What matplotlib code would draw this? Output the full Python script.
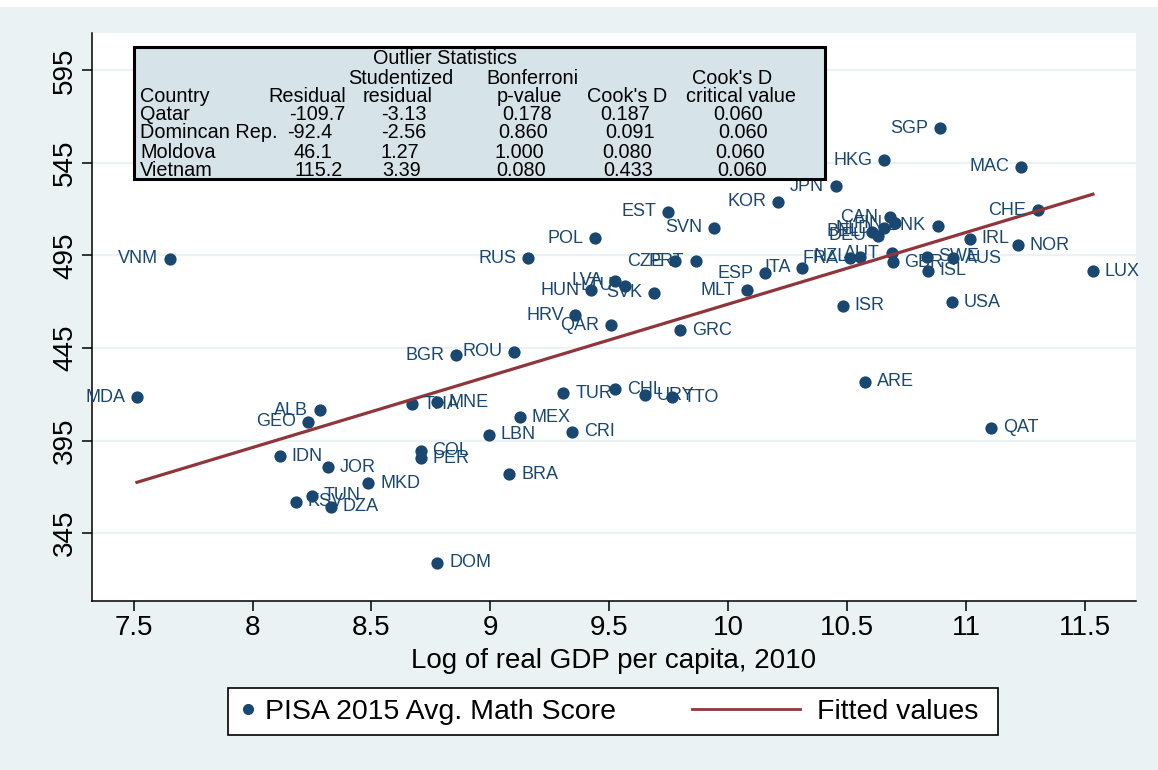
import numpy as np
import matplotlib
matplotlib.use("Agg")
from matplotlib import pyplot as plt
from matplotlib.patches import Rectangle
from matplotlib.lines import Line2D

plt.rcParams['font.family'] = ['Liberation Sans', 'DejaVu Sans']

# country codes, log GDP per capita 2010, PISA 2015 math score, label side
codes = ['SGP', 'HKG', 'MAC', 'JPN', 'KOR', 'EST', 'CHE', 'SVN', 'CAN', 'FIN',
         'NLD', 'DNK', 'BEL', 'DEU', 'POL', 'IRL', 'NOR', 'AUT', 'GBR', 'FRA',
         'NZL', 'SWE', 'AUS', 'ISL', 'LUX', 'VNM', 'RUS', 'CZE', 'PRT', 'ITA',
         'ESP', 'LVA', 'LTU', 'HUN', 'SVK', 'MLT', 'ISR', 'USA', 'HRV', 'QAR',
         'GRC', 'BGR', 'ROU', 'ARE', 'TUR', 'CHL', 'URY', 'TTO', 'MDA', 'QAT',
         'MEX', 'CRI', 'LBN', 'ALB', 'GEO', 'THA', 'MNE', 'IDN', 'JOR', 'COL',
         'PER', 'BRA', 'MKD', 'TUN', 'KSV', 'DZA', 'DOM']
log_gdp = [10.891, 10.655, 11.231, 10.452, 10.211, 9.748, 11.303, 9.942, 10.680, 10.701,
           10.655, 10.882, 10.605, 10.630, 9.440, 11.017, 11.219, 10.688, 10.692, 10.512,
           10.554, 10.835, 10.945, 10.839, 11.534, 7.653, 9.158, 9.776, 9.864, 10.312,
           10.155, 9.524, 9.566, 9.423, 9.690, 10.079, 10.482, 10.940, 9.358, 9.507,
           9.799, 8.855, 9.099, 10.575, 9.307, 9.524, 9.650, 9.762, 7.514, 11.105,
           9.124, 9.345, 8.995, 8.283, 8.233, 8.669, 8.774, 8.115, 8.318, 8.707,
           8.707, 9.080, 8.487, 8.251, 8.183, 8.328, 8.777]
math_score = [563.7, 546.5, 542.8, 532.5, 524.0, 518.6, 519.5, 510.0, 515.7, 512.4,
              509.7, 511.1, 507.9, 505.7, 504.2, 504.1, 500.4, 496.1, 491.3, 493.4,
              494.3, 494.3, 493.6, 486.7, 486.6, 493.1, 493.6, 492.0, 492.0, 488.4,
              485.3, 481.4, 478.6, 476.3, 474.8, 476.3, 467.7, 469.8, 462.8, 457.4,
              454.7, 441.2, 443.0, 426.8, 420.5, 422.7, 419.6, 418.3, 418.5, 401.9,
              407.5, 399.8, 398.0, 411.5, 405.2, 414.7, 415.6, 386.6, 380.5, 389.5,
              385.4, 376.9, 371.9, 365.2, 361.9, 359.2, 329.0]
label_right = ['IRL', 'NOR', 'GBR', 'SWE', 'AUS', 'ISL', 'LUX', 'ISR', 'USA', 'GRC',
               'ARE', 'TUR', 'CHL', 'URY', 'TTO', 'QAT', 'MEX', 'LBN', 'CRI', 'THA',
               'MNE', 'IDN', 'JOR', 'COL', 'PER', 'BRA', 'MKD', 'TUN', 'KSV', 'DZA', 'DOM']

x_ticks = [7.5, 8, 8.5, 9, 9.5, 10, 10.5, 11, 11.5]
y_ticks = [345, 395, 445, 495, 545, 595]

# outlier statistics table
tbl_title = 'Outlier Statistics'
tbl_head1 = ['Studentized', 'Bonferroni', "Cook's D"]
tbl_head2 = ['Country', 'Residual', 'residual', 'p-value', "Cook's D", 'critical value']
tbl_country = ['Qatar', 'Domincan Rep.', 'Moldova', 'Vietnam']
tbl_resid = ['-109.7', '-92.4', '46.1', '115.2']
tbl_stud = ['-3.13', '-2.56', '1.27', '3.39']
tbl_bonf = ['0.178', '0.860', '1.000', '0.080']
tbl_cook = ['0.187', '0.091', '0.080', '0.433']
tbl_crit = ['0.060', '0.060', '0.060', '0.060']

NAVY = '#1A476F'
MAROON = '#90353B'
BG = '#EAF2F3'
W, H = 1158, 770


def fx(px):
    return px / W


def fy(py):
    return 1 - py / H


fig = plt.figure(figsize=(W / 100, H / 100), dpi=100, facecolor=BG)
# white strip at the very top (clipped title area)
fig.patches.append(Rectangle((0, fy(7)), 1, 7 / H, transform=fig.transFigure,
                             facecolor='white', edgecolor='none', zorder=0))

ax = fig.add_axes([fx(92), fy(601), fx(1136) - fx(92), fy(33) - fy(601)])
ax.set_facecolor('white')
ax.set_xlim(7.325, 11.715)
ax.set_ylim(308.3, 615.2)

for yt in y_ticks:
    ax.axhline(yt, color=BG, lw=1.6, zorder=0)

x = np.array(log_gdp)
y = np.array(math_score)
ax.scatter(x, y, s=78, color=NAVY, zorder=3, linewidths=0)

b, a = np.polyfit(x, y, 1)
xs = np.array([x.min(), x.max()])
ax.plot(xs, a + b * xs, color=MAROON, lw=2.3, zorder=4)

for c, xi, yi in zip(codes, log_gdp, math_score):
    if c in label_right:
        ax.annotate(c, (xi, yi), xytext=(8.5, 0), textcoords='offset points',
                    ha='left', va='center', fontsize=13, color=NAVY, zorder=5)
    else:
        ax.annotate(c, (xi, yi), xytext=(-8.5, 0), textcoords='offset points',
                    ha='right', va='center', fontsize=13, color=NAVY, zorder=5)

ax.set_xticks(x_ticks)
ax.set_xticklabels(['%g' % t for t in x_ticks])
ax.set_yticks(y_ticks)
ax.set_yticklabels([str(t) for t in y_ticks], rotation=90, va='center')
ax.tick_params(axis='both', length=7, width=1.1, labelsize=20, pad=3, color='black')
for s in ['top', 'right']:
    ax.spines[s].set_visible(False)
for s in ['left', 'bottom']:
    ax.spines[s].set_linewidth(1.1)
ax.set_xlabel('Log of real GDP per capita, 2010', fontsize=20, labelpad=5)

# table box
fig.patches.append(Rectangle((fx(134), fy(179)), fx(825) - fx(134), fy(47) - fy(179),
                             transform=fig.transFigure, facecolor='#D6E4EA',
                             edgecolor='black', lw=2.2, zorder=6))
tk = dict(fontsize=14.3, color='black', va='center', zorder=7)
fig.text(fx(445), fy(59), tbl_title, ha='center', **tk)
for txt, px in zip(tbl_head1, [348, 486, 692]):
    fig.text(fx(px), fy(78), txt, ha='left', **tk)
for txt, px in zip(tbl_head2, [140, 268, 363, 497, 587, 686]):
    fig.text(fx(px), fy(96), txt, ha='left', **tk)
row_y = [115, 133, 152, 170]
resid_x = [289, 287, 294, 294]
stud_x = [381, 381, 380, 382]
bonf_x = [502, 498, 494, 496]
cook_x = [600, 605, 602, 603]
crit_x = [713, 718, 715, 717]
for i, ry in enumerate(row_y):
    fig.text(fx(140), fy(ry), tbl_country[i], ha='left', **tk)
    fig.text(fx(resid_x[i]), fy(ry), tbl_resid[i], ha='left', **tk)
    fig.text(fx(stud_x[i]), fy(ry), tbl_stud[i], ha='left', **tk)
    fig.text(fx(bonf_x[i]), fy(ry), tbl_bonf[i], ha='left', **tk)
    fig.text(fx(cook_x[i]), fy(ry), tbl_cook[i], ha='left', **tk)
    fig.text(fx(crit_x[i]), fy(ry), tbl_crit[i], ha='left', **tk)

# legend box
fig.patches.append(Rectangle((fx(228), fy(735)), fx(998) - fx(228), fy(688) - fy(735),
                             transform=fig.transFigure, facecolor='white',
                             edgecolor='black', lw=1.2, zorder=1))
h1 = Line2D([], [], ls='none', marker='o', ms=7, color=NAVY)
h2 = Line2D([], [], color=MAROON, lw=2.0)
leg1 = fig.legend([h1], ['PISA 2015 Avg. Math Score'], loc='center left',
                  bbox_to_anchor=(fx(228), fy(712)), frameon=False, fontsize=20.5,
                  handlelength=0.6, handletextpad=0.3, borderpad=0, borderaxespad=0.4)
leg2 = fig.legend([h2], ['Fitted values'], loc='center left',
                  bbox_to_anchor=(fx(686), fy(712)), frameon=False, fontsize=20.5,
                  handlelength=3.8, handletextpad=0.6, borderpad=0, borderaxespad=0.2)
leg1.set_zorder(8)
leg2.set_zorder(8)

plt.savefig('out.png', dpi=100, facecolor=BG)
